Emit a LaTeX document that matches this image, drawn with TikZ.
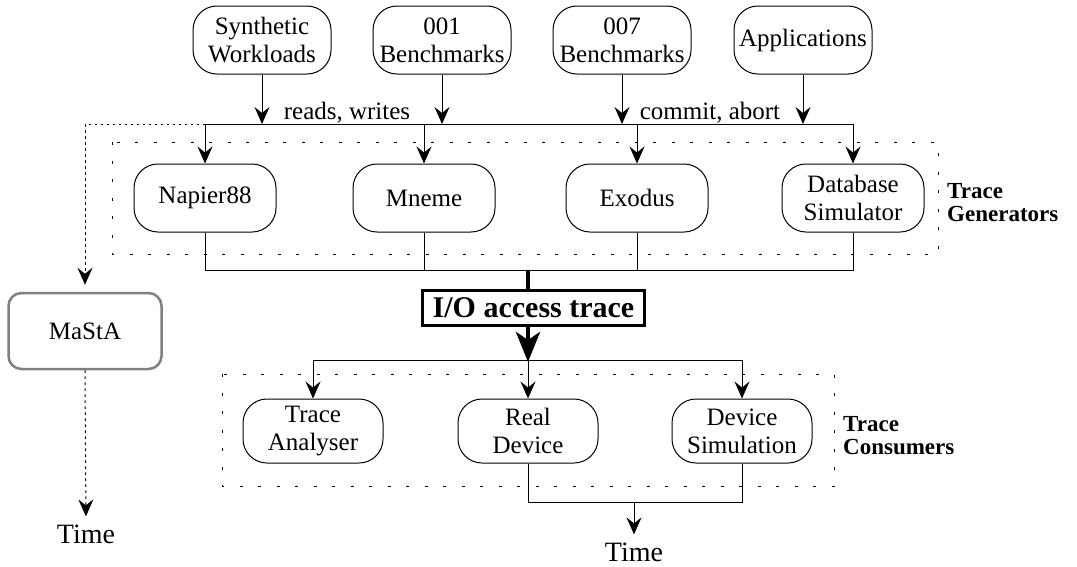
\documentclass[tikz,border=0pt]{standalone}
\usepackage{fontspec}
\setmainfont{Liberation Serif}
\usetikzlibrary{arrows.meta}
\begin{document}
\begin{tikzpicture}[x=1pt,y=-1pt,
  every node/.style={font=\fontsize{25}{28}\selectfont, inner sep=0pt},
  rbox/.style={draw, line width=1pt, rounded corners=24pt, align=center},
  topbox/.style={rbox, minimum width=138pt, minimum height=68pt},
  genbox/.style={rbox, minimum width=142pt, minimum height=68pt},
  conbox/.style={rbox, minimum width=140pt, minimum height=64pt},
  mbox/.style={draw=black!50, line width=2.5pt, rounded corners=13pt, minimum width=153pt, minimum height=76pt},
  iobox/.style={draw, line width=3pt, font=\bfseries\fontsize{30}{32}\selectfont, minimum width=222pt, minimum height=35pt},
  grplabel/.style={font=\bfseries\fontsize{23}{23}\selectfont, align=left, anchor=west},
  timel/.style={font=\fontsize{28}{30}\selectfont, inner sep=0pt},
  arr/.style={line width=1pt, -{Stealth[length=17pt,width=15pt,inset=6pt]}},
  bigarr/.style={line width=4.5pt, -{Stealth[length=30pt,width=24pt,inset=8pt]}},
  dotbox/.style={line width=1pt, dash pattern=on 3pt off 15.5pt},
  dotl/.style={line width=1pt, dash pattern=on 2.5pt off 3.5pt},
  thin/.style={line width=1pt}
]
\useasboundingbox (0,0) rectangle (1077,566);

% top sources
\node[topbox] (syn) at (262,40) {Synthetic\\Workloads};
\node[topbox] (b1) at (442,40) {001\\Benchmarks};
\node[topbox] (b7) at (622,40) {007\\Benchmarks};
\node[topbox] (app) at (803,40) {Applications};

\node[anchor=base] (rw) at (347,119) {reads, writes};
\node[anchor=base] (ca) at (710,119) {commit, abort};

% generators
\node[genbox] (nap) at (205,198) {Napier88};
\node[genbox] (mne) at (424,198) {Mneme};
\node[genbox] (exo) at (637,198) {Exodus};
\node[genbox] (db) at (853,198) {Database\\Simulator};
\draw[dotbox] (112,142) rectangle (938,254);
\node[grplabel] (tg) at (947,203) {Trace\\Generators};

\coordinate (tb) at (0,124);
\draw[arr] (syn) -- (syn |- tb);
\draw[arr] (b1) -- (b1 |- tb);
\draw[arr] (b7) -- (b7 |- tb);
\draw[arr] (app) -- (app |- tb);
\draw[thin] (nap |- tb) -- (db |- tb);
\draw[arr] (nap |- tb) -- (nap);
\draw[arr] (mne |- tb) -- (mne);
\draw[arr] (exo |- tb) -- (exo);
\draw[arr] (db |- tb) -- (db);

% MaStA
\node[mbox] (ma) at (85,331) {MaStA};
\node[timel] (t1) at (86,534) {Time};
\draw[dotl, shorten >=7pt, -{Stealth[length=17pt,width=15pt,inset=6pt]}] (nap |- tb) -| (ma.north);
\draw[dotl, shorten >=8pt, -{Stealth[length=17pt,width=15pt,inset=6pt]}] (ma.south) -- (t1.north);

% generator bus
\coordinate (gb) at (0,270);
\draw[thin] (nap.south) -- (nap.south |- gb) -- (db.south |- gb) -- (db.south);
\draw[thin] (mne.south) -- (mne.south |- gb);
\draw[thin] (exo.south) -- (exo.south |- gb);

% I/O access trace
\node[iobox] (io) at (533.5,308) {I/O access trace};
\coordinate (iox) at (528,0);
\coordinate (cb) at (0,360);
\draw[line width=4.5pt] (iox |- gb) -- (iox |- io.north);
\draw[bigarr] (iox |- io.south) -- ([yshift=-2pt]iox |- cb);

% consumers
\node[conbox] (ta) at (313,431) {Trace\\Analyser};
\node[conbox] (rd) at (528,431) {Real\\Device};
\node[conbox] (ds) at (742,431) {Device\\Simulation};
\draw[dotbox] (222,374) rectangle (834,486);
\node[grplabel] (tc) at (843,436) {Trace\\Consumers};

\draw[thin] (ta |- cb) -- (ds |- cb);
\draw[arr] (ta |- cb) -- (ta);
\draw[arr] (rd |- cb) -- (rd);
\draw[arr] (ds |- cb) -- (ds);

% bottom
\coordinate (bb) at (0,502);
\node[timel] (t2) at (634,552) {Time};
\draw[thin] (rd.south) -- (rd.south |- bb) -- (ds.south |- bb) -- (ds.south);
\draw[arr, shorten >=8pt] (t2 |- bb) -- (t2.north);
\end{tikzpicture}
\end{document}
